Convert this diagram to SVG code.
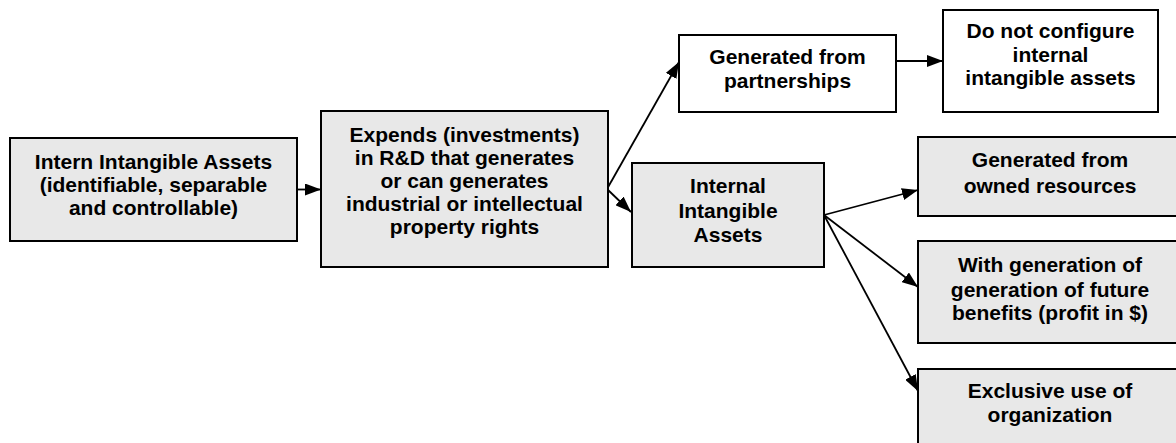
<svg xmlns="http://www.w3.org/2000/svg" width="1176" height="443" viewBox="0 0 1176 443">
<style>
.box{stroke:#000;stroke-width:2;}
.g{fill:#e8e8e8;}
.w{fill:#fff;}
text{font-family:"Liberation Sans",Arial,sans-serif;font-weight:bold;font-size:21px;text-anchor:middle;fill:#000;}
.c{stroke:#000;stroke-width:1.8;fill:none;marker-end:url(#ah);}
</style>
<defs>
<marker id="ah" markerUnits="userSpaceOnUse" markerWidth="16" markerHeight="12" refX="16" refY="6" orient="auto">
<path d="M0,0 L16,6 L0,12 z" fill="#000"/>
</marker>
</defs>
<rect width="1176" height="443" fill="#fff"/>
<g id="connectors">
<line class="c" x1="297" y1="189.5" x2="321" y2="189.5"/>
<line class="c" x1="607" y1="189" x2="679" y2="62"/>
<line class="c" x1="607" y1="189" x2="631" y2="212"/>
<line class="c" x1="896" y1="61" x2="943" y2="61"/>
<line class="c" x1="824" y1="215" x2="918" y2="190"/>
<line class="c" x1="824" y1="215" x2="918" y2="287"/>
<line class="c" x1="824" y1="215" x2="918" y2="391"/>
</g>
<g id="n1">
<rect class="box g" x="10" y="138" width="287" height="103"/>
<text x="153.5" y="169">Intern Intangible Assets</text>
<text x="153.5" y="192">(identifiable, separable</text>
<text x="153.5" y="215">and controllable)</text>
</g>
<g id="n2">
<rect class="box g" x="321" y="111" width="287" height="156"/>
<text x="464.5" y="142">Expends (investments)</text>
<text x="464.5" y="165">in R&amp;D that generates</text>
<text x="464.5" y="188">or can generates</text>
<text x="464.5" y="211">industrial or intellectual</text>
<text x="464.5" y="234">property rights</text>
</g>
<g id="n3">
<rect class="box w" x="679" y="35" width="217" height="77"/>
<text x="787.5" y="64">Generated from</text>
<text x="787.5" y="88">partnerships</text>
</g>
<g id="n4">
<rect class="box w" x="943" y="10" width="215" height="102"/>
<text x="1050.5" y="38">Do not configure</text>
<text x="1050.5" y="62">internal</text>
<text x="1050.5" y="85">intangible assets</text>
</g>
<g id="n5">
<rect class="box g" x="632" y="163" width="192" height="104"/>
<text x="728" y="193">Internal</text>
<text x="728" y="218">Intangible</text>
<text x="728" y="242">Assets</text>
</g>
<g id="n6">
<rect class="box g" x="918" y="137" width="264" height="79"/>
<text x="1050" y="167">Generated from</text>
<text x="1050" y="193">owned resources</text>
</g>
<g id="n7">
<rect class="box g" x="918" y="241" width="264" height="102"/>
<text x="1050" y="272">With generation of</text>
<text x="1050" y="297">generation of future</text>
<text x="1050" y="320">benefits (profit in $)</text>
</g>
<g id="n8">
<rect class="box g" x="918" y="369" width="264" height="80"/>
<text x="1050" y="398">Exclusive use of</text>
<text x="1050" y="422">organization</text>
</g>
</svg>
